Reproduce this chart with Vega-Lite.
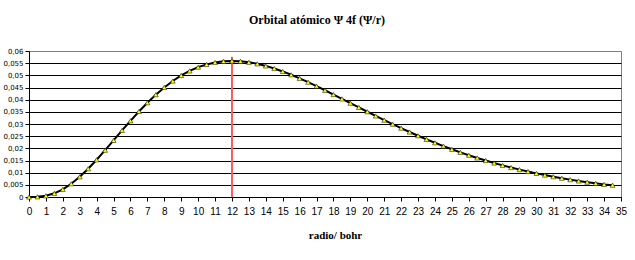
{
  "$schema": "https://vega.github.io/schema/vega-lite/v6.json",
  "width": 592,
  "height": 146,
  "autosize": {"type": "none"},
  "padding": {"left": 29, "top": 51, "right": 14, "bottom": 63},
  "background": "white",
  "title": {
    "text": "Orbital atómico Ψ 4f (Ψ/r)",
    "font": "Liberation Serif",
    "fontSize": 12,
    "fontWeight": "bold",
    "color": "black",
    "anchor": "middle",
    "dx": -8,
    "offset": 20
  },
  "datasets": {
    "curve": [
      {"r": 0, "psi": 0},
      {"r": 0.5, "psi": 0.00007},
      {"r": 1, "psi": 0.00051},
      {"r": 1.5, "psi": 0.00151},
      {"r": 2, "psi": 0.00315},
      {"r": 2.5, "psi": 0.00544},
      {"r": 3, "psi": 0.00829},
      {"r": 3.5, "psi": 0.01162},
      {"r": 4, "psi": 0.0153},
      {"r": 4.5, "psi": 0.01923},
      {"r": 5, "psi": 0.02328},
      {"r": 5.5, "psi": 0.02734},
      {"r": 6, "psi": 0.03132},
      {"r": 6.5, "psi": 0.03515},
      {"r": 7, "psi": 0.03875},
      {"r": 7.5, "psi": 0.04207},
      {"r": 8, "psi": 0.04503},
      {"r": 8.5, "psi": 0.04766},
      {"r": 9, "psi": 0.04995},
      {"r": 9.5, "psi": 0.05183},
      {"r": 10, "psi": 0.05337},
      {"r": 10.5, "psi": 0.05448},
      {"r": 11, "psi": 0.05528},
      {"r": 11.5, "psi": 0.05576},
      {"r": 12, "psi": 0.05593},
      {"r": 12.5, "psi": 0.05578},
      {"r": 13, "psi": 0.05537},
      {"r": 13.5, "psi": 0.05472},
      {"r": 14, "psi": 0.05387},
      {"r": 14.5, "psi": 0.05281},
      {"r": 15, "psi": 0.0516},
      {"r": 15.5, "psi": 0.05023},
      {"r": 16, "psi": 0.04878},
      {"r": 16.5, "psi": 0.04718},
      {"r": 17, "psi": 0.04554},
      {"r": 17.5, "psi": 0.04386},
      {"r": 18, "psi": 0.04211},
      {"r": 18.5, "psi": 0.04033},
      {"r": 19, "psi": 0.03856},
      {"r": 19.5, "psi": 0.03682},
      {"r": 20, "psi": 0.03504},
      {"r": 20.5, "psi": 0.0333},
      {"r": 21, "psi": 0.03159},
      {"r": 21.5, "psi": 0.02991},
      {"r": 22, "psi": 0.02829},
      {"r": 22.5, "psi": 0.02671},
      {"r": 23, "psi": 0.02517},
      {"r": 23.5, "psi": 0.02369},
      {"r": 24, "psi": 0.02228},
      {"r": 24.5, "psi": 0.02092},
      {"r": 25, "psi": 0.0196},
      {"r": 25.5, "psi": 0.01836},
      {"r": 26, "psi": 0.01717},
      {"r": 26.5, "psi": 0.01605},
      {"r": 27, "psi": 0.01498},
      {"r": 27.5, "psi": 0.01396},
      {"r": 28, "psi": 0.01301},
      {"r": 28.5, "psi": 0.01211},
      {"r": 29, "psi": 0.01126},
      {"r": 29.5, "psi": 0.01047},
      {"r": 30, "psi": 0.0097},
      {"r": 30.5, "psi": 0.009},
      {"r": 31, "psi": 0.00835},
      {"r": 31.5, "psi": 0.00772},
      {"r": 32, "psi": 0.00714},
      {"r": 32.5, "psi": 0.0066},
      {"r": 33, "psi": 0.0061},
      {"r": 33.5, "psi": 0.00562},
      {"r": 34, "psi": 0.00519},
      {"r": 34.5, "psi": 0.00485}
    ],
    "marker": [
      {"r": 12, "psi": 0},
      {"r": 12, "psi": 0.0576}
    ]
  },
  "encoding": {
    "x": {
      "field": "r",
      "type": "quantitative",
      "title": "radio/ bohr",
      "scale": {"domain": [0, 35], "nice": false, "zero": true},
      "axis": {
        "values": [0,1,2,3,4,5,6,7,8,9,10,11,12,13,14,15,16,17,18,19,20,21,22,23,24,25,26,27,28,29,30,31,32,33,34,35],
        "format": "d",
        "grid": false,
        "labelFont": "Liberation Sans",
        "labelFontSize": 10,
        "labelColor": "black",
        "labelPadding": 5,
        "labelOverlap": false,
        "labelFlush": false,
        "tickColor": "black",
        "tickSize": 4,
        "domainColor": "black",
        "titleFont": "Liberation Serif",
        "titleFontSize": 11,
        "titleFontWeight": "bold",
        "titleColor": "black",
        "titleX": 306,
        "titleY": 41,
        "titleBaseline": "alphabetic"
      }
    },
    "y": {
      "field": "psi",
      "type": "quantitative",
      "title": null,
      "scale": {"domain": [0, 0.06], "nice": false},
      "axis": {
        "values": [0, 0.005, 0.01, 0.015, 0.02, 0.025, 0.03, 0.035, 0.04, 0.045, 0.05, 0.055, 0.06],
        "labelExpr": "replace(format(datum.value, '~g'), '.', ',')",
        "labelFont": "DejaVu Sans",
        "labelFontSize": 7,
        "labelColor": "black",
        "labelPadding": 2,
        "labelOverlap": false,
        "tickColor": "black",
        "tickSize": 4,
        "domainColor": "black",
        "grid": true,
        "gridColor": {"condition": {"test": "datum.value >= 0.0599", "value": "#808080"}, "value": "black"},
        "gridWidth": 1,
        "gridOpacity": 1
      }
    }
  },
  "layer": [
    {
      "data": {"name": "marker"},
      "mark": {"type": "line", "color": "#ff5a5a", "strokeWidth": 2}
    },
    {
      "data": {"name": "curve"},
      "mark": {
        "type": "line",
        "color": "black",
        "strokeWidth": 2,
        "point": {
          "shape": "triangle-up",
          "filled": true,
          "fill": "#ffff00",
          "stroke": "black",
          "strokeWidth": 0.5,
          "size": 24,
          "opacity": 1
        }
      }
    }
  ],
  "config": {
    "view": {"stroke": "#808080", "strokeWidth": 1}
  }
}
